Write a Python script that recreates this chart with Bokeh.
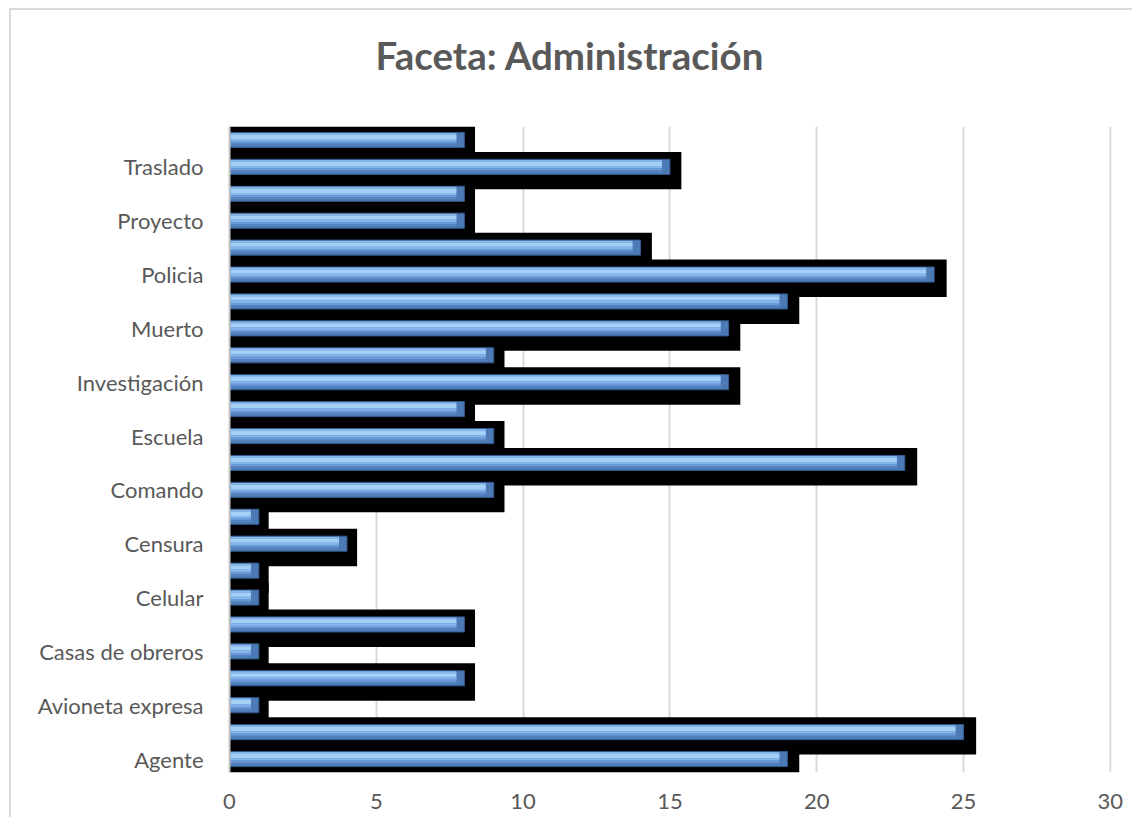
from bokeh.plotting import figure
from bokeh.models import FixedTicker, Range1d, Title
from bokeh.embed import file_html
from bokeh.resources import INLINE

# ---------------- data ----------------
title_text = "Faceta: Administración"
# categories bottom -> top (Excel shows only every other label)
tick_labels = ["Agente", "Avioneta expresa", "Casas de obreros", "Celular",
               "Censura", "Comando", "Escuela", "Investigación", "Muerto",
               "Policia", "Proyecto", "Traslado"]
counts = [19, 25, 1, 8, 1, 8, 1, 1, 4, 1, 9, 23,
          9, 8, 17, 9, 17, 19, 24, 14, 8, 8, 15, 8]
x_ticks = [0, 5, 10, 15, 20, 25, 30]

pos = list(range(len(counts)))
label_pos = pos[::2]

# ---------------- figure ----------------
p = figure(width=1132, height=817, output_backend="svg", toolbar_location=None,
           title_location=None,
           x_range=Range1d(0, 30.04), y_range=Range1d(-0.5, len(counts) - 0.5),
           min_border_left=229, min_border_right=21, min_border_top=126,
           min_border_bottom=45)
p.background_fill_color = "white"
p.border_fill_color = None
p.outline_line_color = None
p.styles = {
    "background": ("linear-gradient(#d9d9d9, #d9d9d9) 9px 8px / 2px 100% no-repeat, "
                   "linear-gradient(#d9d9d9, #d9d9d9) 9px 8px / 100% 2px no-repeat, #ffffff"),
}

# black offset "shadow"
p.hbar(y=[v - 0.14 for v in pos], height=1.39, left=-0.1,
       right=[c * 1.004 + 0.33 for c in counts],
       fill_color="black", line_color=None)

# blue bevelled bars (gradient approximated with bands)
H = 0.56
ends = [c - 0.27 for c in counts]
p.hbar(y=pos, height=H, left=0, right=counts,
       fill_color="#4b7ab6", line_color="#345b8e", line_width=1)
p.hbar(y=[v + 0.40 * H for v in pos], height=0.12 * H, left=0.04,
       right=ends, fill_color="#86b8ec", line_color=None)
p.hbar(y=[v + 0.20 * H for v in pos], height=0.28 * H, left=0.04,
       right=ends, fill_color="#a4d0f8", line_color=None)
p.hbar(y=[v - 0.02 * H for v in pos], height=0.16 * H, left=0.04,
       right=ends, fill_color="#85b6ec", line_color=None)
p.hbar(y=[v - 0.17 * H for v in pos], height=0.14 * H, left=0.04,
       right=ends, fill_color="#6a9bd8", line_color=None)
p.hbar(y=[v - 0.31 * H for v in pos], height=0.14 * H, left=0.04,
       right=ends, fill_color="#5482bf", line_color=None)

# ---------------- axes ----------------
p.xaxis.ticker = FixedTicker(ticks=x_ticks)
p.yaxis.ticker = FixedTicker(ticks=label_pos)
p.yaxis.major_label_overrides = {lp: lab for lp, lab in zip(label_pos, tick_labels)}

for ax in (p.xaxis[0], p.yaxis[0]):
    ax.major_label_text_font = "Lato"
    ax.major_label_text_font_size = "22px"
    ax.major_label_text_color = "#595959"
    ax.major_tick_line_color = None
    ax.minor_tick_line_color = None
    ax.major_tick_out = 0
    ax.major_tick_in = 0

p.xaxis.axis_line_color = None
p.xaxis.major_label_standoff = 21
p.yaxis.axis_line_color = "#c8c8c8"
p.yaxis.axis_line_width = 2
p.yaxis.major_label_standoff = 26

p.xgrid.grid_line_color = "#d9d9d9"
p.xgrid.grid_line_width = 2
p.ygrid.grid_line_color = None

# spacer panel between frame and title, then the title itself
p.add_layout(Title(text=" ", text_font_size="2px", standoff=45), "above")
p.add_layout(Title(text=title_text, align="left", offset=146, standoff=0,
                   text_font="Lato", text_font_style="bold", text_font_size="38.5px",
                   text_color="#595959"), "above")

open("out.html", "w").write(file_html(p, INLINE))
